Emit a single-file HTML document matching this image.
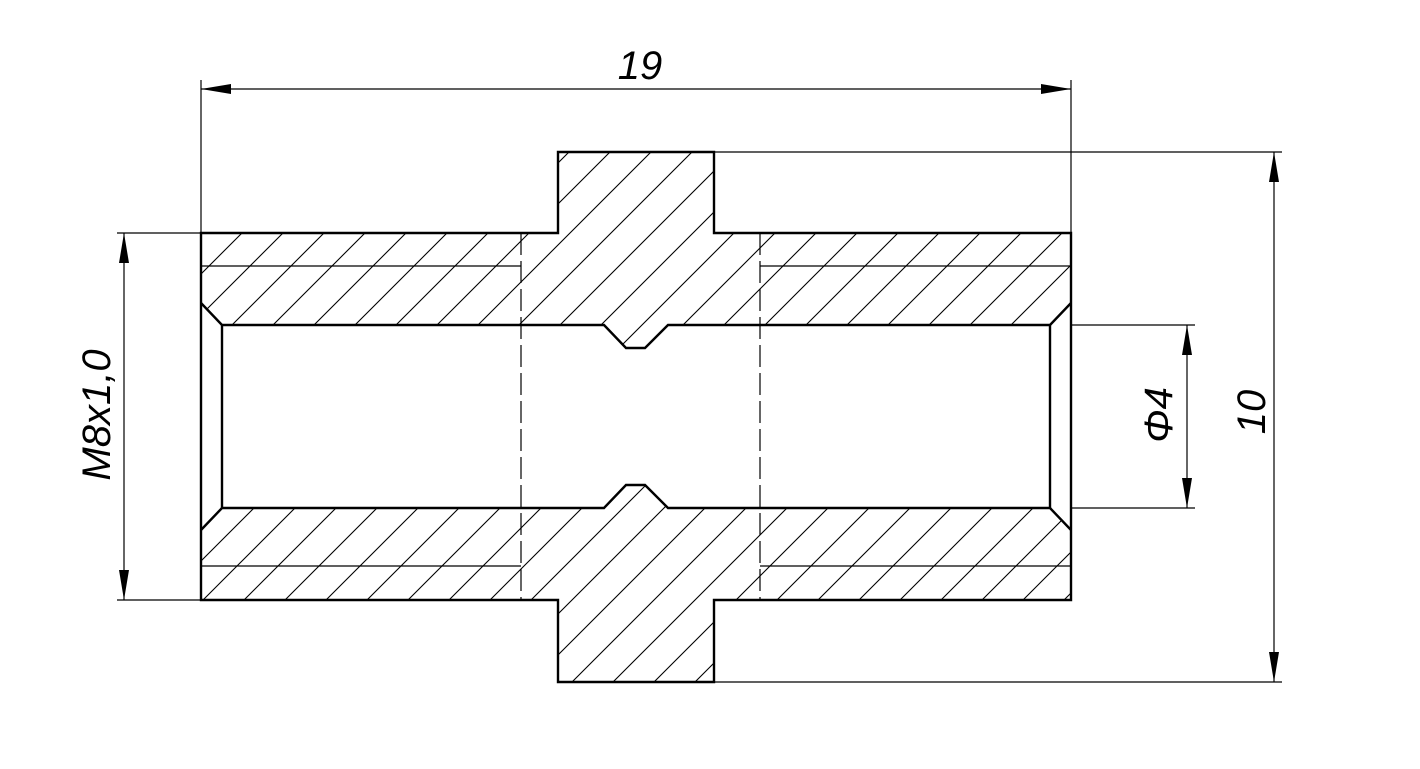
<!DOCTYPE html>
<html><head><style>body{margin:0;background:#fff}svg{display:block}</style></head><body>
<svg width="1420" height="769" viewBox="0 0 1420 769" xmlns="http://www.w3.org/2000/svg">
<defs>
<pattern id="h" width="41" height="41" patternUnits="userSpaceOnUse" x="201" y="233">
<path d="M-2,43 L43,-2 M-2,2 L2,-2 M39,43 L43,39" stroke="#000" stroke-width="1.1"/>
</pattern>
<marker id="a" viewBox="0 0 30 10" refX="30" refY="5" markerWidth="30" markerHeight="10" markerUnits="userSpaceOnUse" orient="auto-start-reverse"><path d="M0,0 L30,5 L0,10 Z" fill="#000"/></marker>
</defs>
<g fill="url(#h)" stroke="none">
<path d="M201,233 H558 V152 H714 V233 H1071 V303 L1050,325 H668 L645,348 H626 L604,325 H222 L201,303 Z"/>
<path d="M201,600 H558 V682 H714 V600 H1071 V530 L1050,508 H668 L645,485 H626 L604,508 H222 L201,530 Z"/>
</g>
<g stroke="#000" stroke-width="2.4" fill="none">
<path d="M201,233 H558 V152 H714 V233 H1071 V600 H714 V682 H558 V600 H201 Z"/>
<path d="M201,303 L222,325 H604 L626,348 H645 L668,325 H1050 L1071,303"/>
<path d="M201,530 L222,508 H604 L626,485 H645 L668,508 H1050 L1071,530"/>
<path d="M222,325 V508 M1050,325 V508"/>
</g>
<g stroke="#000" stroke-width="1.2" fill="none">
<path d="M201,266 H521 M760,266 H1071 M201,566 H521 M760,566 H1071"/>
<path d="M521,233 V600 M760,233 V600" stroke-dasharray="22,6"/>
<path d="M201,80 V233 M1071,80 V233"/>
<path d="M117,233 H201 M117,600 H201"/>
<path d="M714,152 H1282 M714,682 H1282"/>
<path d="M1071,325 H1195 M1071,508 H1195"/>
<line x1="201" y1="89" x2="1071" y2="89" marker-start="url(#a)" marker-end="url(#a)"/>
<line x1="124" y1="233" x2="124" y2="600" marker-start="url(#a)" marker-end="url(#a)"/>
<line x1="1274" y1="152" x2="1274" y2="682" marker-start="url(#a)" marker-end="url(#a)"/>
<line x1="1187" y1="325" x2="1187" y2="508" marker-start="url(#a)" marker-end="url(#a)"/>
</g>
<g font-family="Liberation Sans, sans-serif" font-style="italic" font-size="40" fill="#000" text-anchor="middle">
<text x="640" y="79">19</text>
<text transform="translate(110,415) rotate(-90)">M8x1,0</text>
<text transform="translate(1265,412) rotate(-90)">10</text>
<text transform="translate(1172,415) rotate(-90)">Φ4</text>
</g>
</svg>
</body></html>
